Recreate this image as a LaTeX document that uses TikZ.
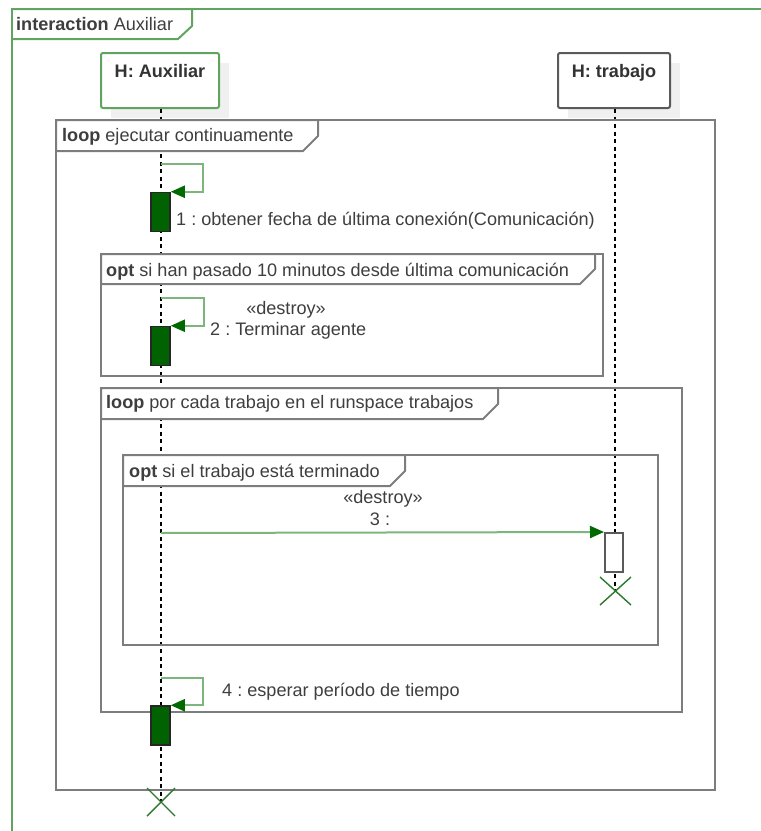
\documentclass[tikz,border=0pt]{standalone}
\usepackage{fontspec}
\setmainfont{Liberation Sans}
\usetikzlibrary{arrows.meta,calc}
\frenchspacing

\definecolor{framegreen}{RGB}{95,165,95}
\definecolor{msggreen}{RGB}{125,182,125}
\definecolor{headgreen}{RGB}{0,105,0}
\definecolor{actgreen}{RGB}{0,98,0}
\definecolor{fragline}{RGB}{125,125,125}
\definecolor{headgrey}{RGB}{90,90,90}
\definecolor{txt}{RGB}{62,62,62}
\definecolor{shadowgrey}{RGB}{240,240,240}
\definecolor{crossgreen}{RGB}{45,120,45}

\tikzset{
  lbl/.style={inner sep=0pt, text=txt, font=\fontsize{18.1}{20}\selectfont},
  frag/.style={draw=fragline, line width=2pt},
  fragtab/.style={draw=fragline, line width=2pt, fill=white, line join=round},
  headbox/.style={draw, line width=2pt, rounded corners=2pt, fill=white,
                  minimum height=55pt, inner sep=0pt},
  headshadow/.style={fill=shadowgrey, draw=none},
  lifeline/.style={draw=black, line width=1.5pt, dash pattern=on 4pt off 3.5pt},
  msg/.style={draw=msggreen, line width=2pt,
              -{Triangle[length=14pt,width=12pt,color=headgreen]}},
  actbox/.style={draw=black!85, line width=1.5pt, fill=actgreen,
                 minimum width=19pt, minimum height=39pt, inner sep=0pt},
  actwhite/.style={draw=headgrey, line width=2pt, fill=white,
                   minimum width=18pt, minimum height=39pt, inner sep=0pt},
  destroyx/.style={draw=crossgreen, line width=1.4pt},
}

\begin{document}
\begin{tikzpicture}[x=1pt,y=-1pt]
\useasboundingbox (0,0) rectangle (761,831);

% interaction frame
\draw[framegreen, line width=2pt] (12,831) -- (12,9) -- (761,9);
\draw[framegreen, line width=2pt, line join=round]
  (12,9) -- (192,9) -- (192,26) -- (178,39) -- (12,39);
\node[lbl, anchor=base west] (ttl) at (16,30)
  {\textbf{interaction} Auxiliar};

% lifeline heads with their shadows
\fill[headshadow] (111,63) rectangle (229,118);
\fill[headshadow] (568,63) rectangle (680,118);
\node[headbox, draw=framegreen, minimum width=118pt] (aux) at (160,80.5) {};
\node[headbox, draw=headgrey, minimum width=112pt] (trab) at (614,80.5) {};
\node[lbl, anchor=base, font=\fontsize{18.1}{20}\selectfont\bfseries, text=black!80]
  (auxT) at (160,77) {H: Auxiliar};
\node[lbl, anchor=base, font=\fontsize{18.1}{20}\selectfont\bfseries, text=black!80]
  (trabT) at (614,77) {H: trabajo};

% lifelines
\coordinate (auxEnd) at (161,802);
\coordinate (trabEnd) at (615,591);
\draw[lifeline] (aux.south -| auxEnd) -- (auxEnd);
\draw[lifeline] (trab.south -| trabEnd) -- (trabEnd);

% loop: ejecutar continuamente
\draw[frag] (56,120) rectangle (715,790);
\draw[fragtab] (56,120) -- (318,120) -- (318,136) -- (303,151) -- (56,151) -- cycle;
\node[lbl, anchor=base west] (loopA) at (62,141)
  {\textbf{loop} ejecutar continuamente};

% opt: si han pasado 10 minutos
\draw[frag] (101,254) rectangle (603,376);
\draw[fragtab] (101,254) -- (595,254) -- (595,269) -- (580,284) -- (101,284) -- cycle;
\node[lbl, anchor=base west] (optA) at (106,276)
  {\textbf{opt} si han pasado 10 minutos desde última comunicación};

% loop: por cada trabajo
\draw[frag] (101,388) rectangle (682,712);
\draw[fragtab] (101,388) -- (498,388) -- (498,404) -- (483,419) -- (101,419) -- cycle;
\node[lbl, anchor=base west] (loopB) at (106,408)
  {\textbf{loop} por cada trabajo en el runspace trabajos};

% opt: si el trabajo está terminado
\draw[frag] (123,455) rectangle (658,645);
\draw[fragtab] (123,455) -- (405,455) -- (405,471) -- (390,486) -- (123,486) -- cycle;
\node[lbl, anchor=base west] (optB) at (129,477)
  {\textbf{opt} si el trabajo está terminado};

% activations
\node[actbox] (a1) at (160.5,212) {};
\node[actbox] (a2) at (160.5,346) {};
\node[actbox] (a4) at (160.5,725.5) {};
\node[actwhite] (a3) at (614,552.5) {};

% messages
\coordinate (m1s) at (161,164);
\coordinate (m2s) at (161,298);
\coordinate (m3s) at (161,533);
\coordinate (m4s) at (161,678);
\draw[msg] (m1s) -- (203,164) |- (a1.north east);
\draw[msg] (m2s) -- (204,298) |- (a2.north east);
\draw[msg] (m3s) -- (a3.north west);
\draw[msg] (m4s) -- (203,678) |- (a4.north east);

% message labels
\node[lbl, anchor=base west] (l1) at (176,225)
  {1 : obtener fecha de última conexión(Comunicación)};
\node[lbl, anchor=base] (l2s) at (286,314) {«destroy»};
\node[lbl, anchor=base west] (l2) at (210,335) {2 : Terminar agente};
\node[lbl, anchor=base] (l3s) at (383,503) {«destroy»};
\node[lbl, anchor=base] (l3) at (380,525) {3 :};
\node[lbl, anchor=base west] (l4) at (222,696) {4 : esperar período de tiempo};

% destruction marks
\draw[destroyx] ($(auxEnd)+(-14,-14)$) -- ($(auxEnd)+(14,14)$)
                ($(auxEnd)+(-14,14)$) -- ($(auxEnd)+(14,-14)$);
\draw[destroyx] ($(trabEnd)+(-15,-14)$) -- ($(trabEnd)+(16,14)$)
                ($(trabEnd)+(-15,14)$) -- ($(trabEnd)+(16,-14)$);
\end{tikzpicture}
\end{document}
